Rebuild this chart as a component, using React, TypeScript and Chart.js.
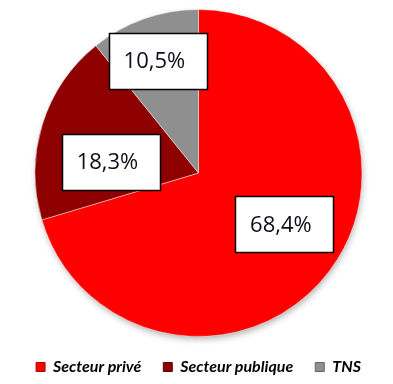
import React, { useEffect, useRef } from "react";
import { Chart, registerables } from "chart.js";

Chart.register(...registerables);

const categories = ["Secteur privé", "Secteur publique", "TNS"];
const values = [68.4, 18.3, 10.5];
const valueLabels = ["68,4%", "18,3%", "10,5%"];

const sliceColors = ["#ff0000", "#8e0000", "#8f8f8f"];
const sliceEdge = ["#b80000", "#5e0000", "#666666"];
const sliceLight = ["#ff1a1a", "#990404", "#9a9a9a"];

// label box placement: angle shift (deg) from slice mid-angle, fraction of radius
const labelPlacement = [
  { dA: -5.6, frac: 0.61 },
  { dA: -9.9, frac: 0.543 },
  { dA: -0.7, frac: 0.73 },
];

const pieShadowPlugin = {
  id: "pieShadow",
  beforeDatasetsDraw(chart: any) {
    const meta = chart.getDatasetMeta(0);
    const arc = meta.data[0];
    if (!arc) return;
    const ctx = chart.ctx;
    ctx.save();
    ctx.shadowColor = "rgba(0,0,0,0.35)";
    ctx.shadowBlur = 7;
    ctx.shadowOffsetX = 1;
    ctx.shadowOffsetY = 3;
    ctx.fillStyle = "#ffffff";
    ctx.beginPath();
    ctx.arc(arc.x, arc.y, arc.outerRadius - 1, 0, Math.PI * 2);
    ctx.fill();
    ctx.restore();
  },
};

const labelBoxPlugin = {
  id: "labelBoxes",
  afterDatasetsDraw(chart: any) {
    const ctx = chart.ctx;
    const meta = chart.getDatasetMeta(0);
    ctx.save();
    ctx.font = "500 22px 'Open Sans'";
    ctx.textAlign = "center";
    ctx.textBaseline = "middle";
    meta.data.forEach((arc: any, i: number) => {
      const p = labelPlacement[i];
      const mid = (arc.startAngle + arc.endAngle) / 2 + (p.dA * Math.PI) / 180;
      const r = arc.outerRadius * p.frac;
      const x = arc.x + Math.cos(mid) * r;
      const y = arc.y + Math.sin(mid) * r;
      const text = valueLabels[i];
      const tw = ctx.measureText(text).width;
      const w = tw + 36;
      const h = 56;
      ctx.fillStyle = "#ffffff";
      ctx.fillRect(Math.round(x - w / 2), Math.round(y - h / 2), Math.round(w), h);
      ctx.lineWidth = 1.5;
      ctx.strokeStyle = "#000000";
      ctx.strokeRect(Math.round(x - w / 2) + 0.5, Math.round(y - h / 2) + 0.5, Math.round(w), h);
      ctx.fillStyle = "#0d0d1a";
      ctx.fillText(text, x - 3, y + 1);
    });
    ctx.restore();
  },
};

export default function App() {
  const ref = useRef<HTMLCanvasElement | null>(null);
  useEffect(() => {
    document.body.style.margin = "0";
    const canvas = ref.current!;
    const chart = new Chart(canvas, {
      type: "pie",
      data: {
        labels: categories,
        datasets: [
          {
            data: values,
            backgroundColor: (c: any) => {
              const i = c.dataIndex;
              const el = c.element;
              const chartArea = c.chart.chartArea;
              if (!chartArea || !el || !el.outerRadius) return sliceColors[i];
              const g = c.chart.ctx.createRadialGradient(el.x, el.y, 0, el.x, el.y, el.outerRadius);
              g.addColorStop(0, sliceLight[i]);
              g.addColorStop(0.93, sliceColors[i]);
              g.addColorStop(1, sliceEdge[i]);
              return g;
            },
            borderColor: "rgba(255,255,255,0.45)",
            borderWidth: 1,
          },
        ],
      },
      options: {
        responsive: false,
        animation: false,
        layout: { padding: { left: 4, right: 0, top: 9, bottom: -1 } },
        plugins: {
          tooltip: { enabled: false },
          legend: {
            position: "bottom",
            labels: {
              boxWidth: 9,
              boxHeight: 9,
              padding: 22,
              color: "#0d0d1a",
              font: { family: "Lato", size: 16, style: "italic", weight: "bold" },
              generateLabels: () =>
                categories.map((c, i) => ({
                  text: c,
                  fillStyle: sliceColors[i],
                  strokeStyle: sliceEdge[i],
                  lineWidth: 1,
                  index: i,
                  datasetIndex: 0,
                })),
            },
          },
        },
      },
      plugins: [pieShadowPlugin, labelBoxPlugin],
    });
    return () => chart.destroy();
  }, []);
  return (
    <div style={{ position: "fixed", left: 0, top: 0, width: 393, height: 384, background: "#fff" }}>
      <canvas ref={ref} width={393} height={384} />
    </div>
  );
}
